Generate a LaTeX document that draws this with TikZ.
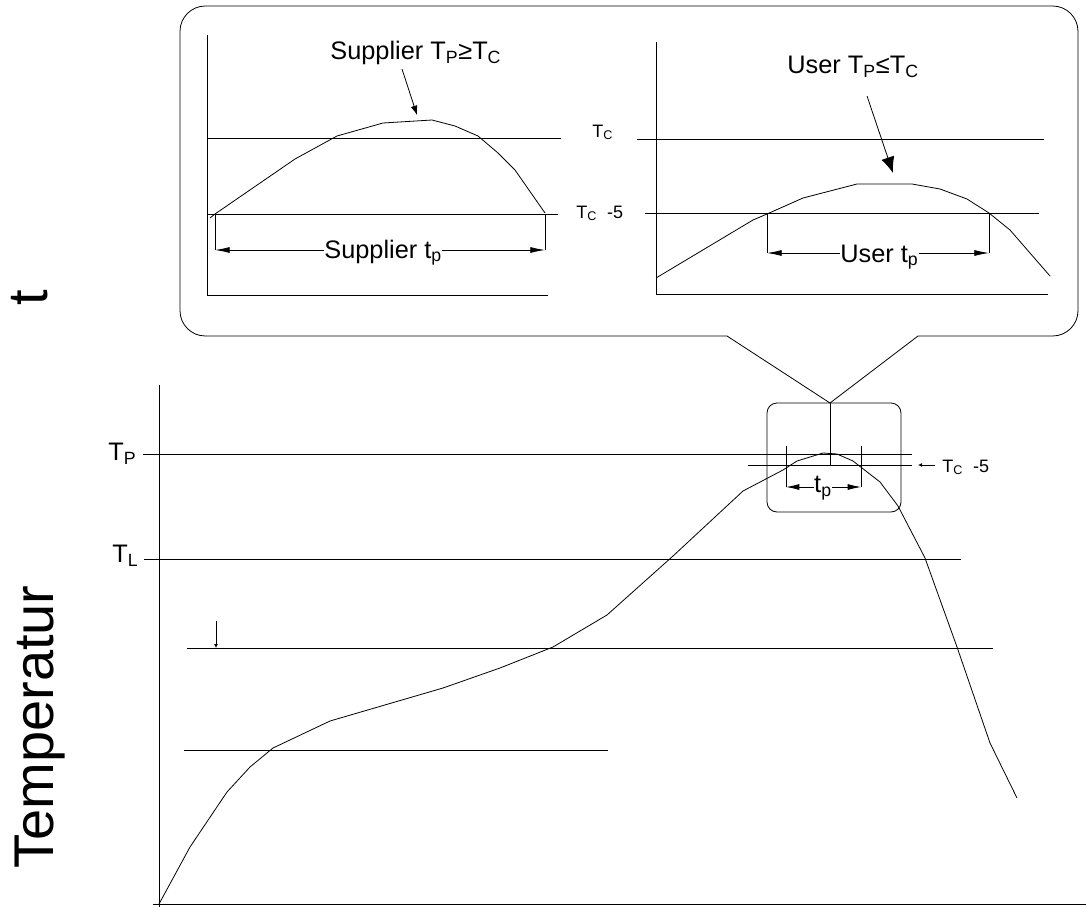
\documentclass[tikz,border=0pt]{standalone}
\usepackage{fontspec}
\setmainfont{Liberation Sans}
\usetikzlibrary{positioning}
\usetikzlibrary{arrows.meta}

\tikzset{
	lbl/.style={inner sep=0pt, font=\fontsize{19pt}{22pt}\selectfont},
	smlbl/.style={inner sep=0pt, font=\fontsize{13.5pt}{16pt}\selectfont},
	axlbl/.style={inner sep=0pt, rotate=90, anchor=base, font=\fontsize{42pt}{48pt}\selectfont},
	span/.style={{Latex[length=11pt,width=4.5pt]}-{Latex[length=11pt,width=4.5pt]}},
	pointer/.style={-{Latex[length=8pt,width=6pt]}},
	tick/.style={-{Latex[length=3pt,width=3pt]}},
}

\begin{document}
\begin{tikzpicture}[x=0.75pt, y=-0.75pt, line width=0.6pt]
		\useasboundingbox (0,0) rectangle (1086,907);
		
		\draw[rounded corners=19pt] (727,336) -- (180,336) -- (180,6) -- (1078,6) -- (1078,336) -- (918,336);
		\coordinate (tail) at (830,403);
		\draw (727,336) -- (tail) -- (918,336);
		
		\draw (207,35) -- (207,295) -- (548,295);
		\draw (207,138) -- (561,138);
		\draw (208,214) -- (558,214);
		\draw (210,218) -- (215,214) -- (295,159) -- (337,136) -- (383,123) -- (432,120) -- (455,126) -- (478,136) -- (498,153) -- (515,170) -- (545,213);
		\coordinate (sA) at (215,250);
		\coordinate (sB) at (545,250);
		\draw (215,214) -- (sA);
		\draw (545,214) -- (sB);
		\path (sA) edge[span] (sB);
		\node[lbl, anchor=base west] (supTitle) at (330,59) {Supplier T\textsubscript{P}≥T\textsubscript{C}};
		\coordinate (supFrom) at (402,69);
		\coordinate (supTo) at (417,115);
		\path (supFrom) edge[pointer, -{Latex[length=7pt,width=5pt]}] (supTo);
		\node[lbl, anchor=base west, fill=white] (supTp) at (324,258) {Supplier t\textsubscript{p}};
		\node[smlbl, anchor=base west] (tcA) at (592,137) {T\textsubscript{C}};
		\node[smlbl, anchor=base west] (tcB) at (576,218) {T\textsubscript{C}\ \ -5};
		
		\draw (656,42) -- (656,294) -- (1048,294);
		\draw (637,139) -- (1044,139);
		\draw (645,213) -- (1039,213);
		\draw (656,278) -- (753,220) -- (767,214) -- (803,198) -- (857,184) -- (912,184) -- (940,189) -- (967,199) -- (989,213) -- (1010,230) -- (1050,276);
		\coordinate (uA) at (767,253);
		\coordinate (uB) at (989,253);
		\draw (767,213) -- (uA);
		\draw (989,213) -- (uB);
		\path (uA) edge[span] (uB);
		\node[lbl, anchor=base west] (usrTitle) at (787,73) {User T\textsubscript{P}≤T\textsubscript{C}};
		\coordinate (usrFrom) at (867,96);
		\coordinate (usrTo) at (893,173);
		\path (usrFrom) edge[pointer, -{Latex[length=12pt,width=10pt]}] (usrTo);
		\node[lbl, anchor=base west, fill=white] (usrTp) at (840,262) {User t\textsubscript{p}};
		
		\draw (159,385) -- (159,907);
		\draw (153,904) -- (1086,904);
		\draw (143,454) -- (912,454);
		\draw (144,559) -- (961,559);
		\draw (187,648) -- (993,648);
		\draw (184,750) -- (608,750);
		\coordinate (dropA) at (216,621);
		\coordinate (dropB) at (216,648);
		\path (dropA) edge[tick] (dropB);
		\draw (159,904) -- (190,847) -- (227,792) -- (250,767) -- (273,748) -- (330,721) -- (443,688) -- (500,668) -- (553,647) -- (607,615) -- (673,556) -- (743,491) -- (783,470) -- (797,461) -- (823,453) -- (837,454) -- (853,461) -- (880,482) -- (898,506) -- (925,558) -- (957,647) -- (990,743) -- (1017,798);
		\node[lbl, anchor=base west] (tP) at (108,460) {T\textsubscript{P}};
		\node[lbl, anchor=base west] (tL) at (112,562) {T\textsubscript{L}};
		
		\draw[rounded corners=7.5pt] (767,403) rectangle (901,512);
		\draw (tail) -- (830,465);
		\draw (748,465) -- (912,465);
		\coordinate (bA) at (786,487);
		\coordinate (bB) at (861,487);
		\draw (786,446) -- (bA);
		\draw (861,446) -- (bB);
		\path (bA) edge[span, {Latex[length=10pt,width=4.5pt]}-{Latex[length=10pt,width=4.5pt]}] (bB);
		\node[lbl, fill=white] (boxTp) at (823,488) {t\textsubscript{p}};
		\node[smlbl, anchor=base west] (tcC) at (942,472) {T\textsubscript{C}\ \ -5};
		\coordinate (tcFrom) at (935,465);
		\coordinate (tcTo) at (918,465);
		\path (tcFrom) edge[tick] (tcTo);
		
		\node[axlbl] (tAxis) at (47,298) {t};
		\node[axlbl] (tempAxis) at (53,727) {Temperatur};
	\end{tikzpicture}
\end{document}
